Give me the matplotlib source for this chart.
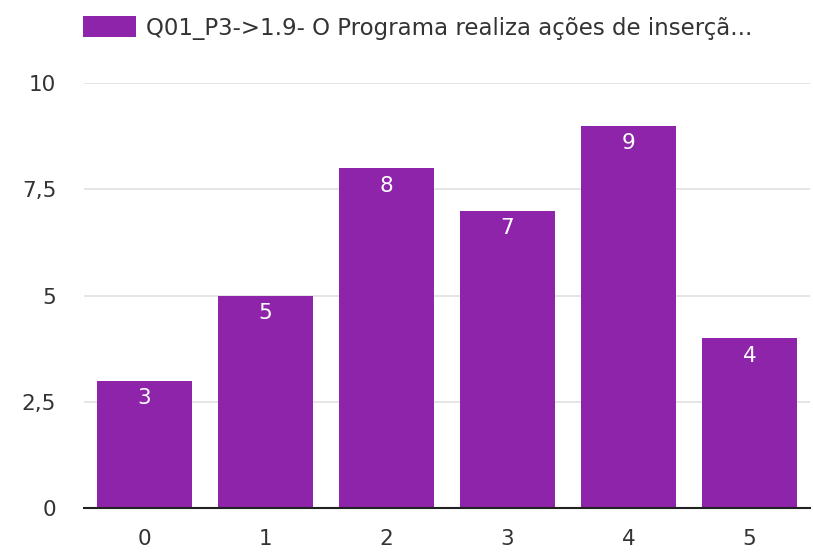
import matplotlib.pyplot as plt
from matplotlib.patches import Patch
from matplotlib.ticker import FuncFormatter

plt.rcParams["font.family"] = ["DejaVu Sans"]

CATEGORIES = ["0", "1", "2", "3", "4", "5"]
VALUES = [3, 5, 8, 7, 9, 4]
SERIES_LABEL = "Q01_P3->1.9- O Programa realiza ações de inserçã..."
Y_TICKS = [0, 2.5, 5, 7.5, 10]

BAR_COLOR = "#8e24aa"
TEXT_COLOR = "#333333"
GRID_COLOR = "#e0e0e0"

fig = plt.figure(figsize=(8.13, 5.56), dpi=100)
ax = fig.add_axes([0.1033, 0.0863, 0.893, 0.7644])

x = range(len(CATEGORIES))
bars = ax.bar(x, VALUES, width=0.79, color=BAR_COLOR, zorder=3)

for rect, v in zip(bars, VALUES):
    ax.annotate(
        str(v),
        (rect.get_x() + rect.get_width() / 2, v),
        xytext=(0, -5.5),
        textcoords="offset points",
        ha="center",
        va="top",
        color="white",
        fontsize=15.5,
        zorder=4,
    )

ax.set_xlim(-0.5, len(CATEGORIES) - 0.5)
ax.set_ylim(0, 10)
ax.set_xticks(list(x))
ax.set_xticklabels(CATEGORIES)
ax.set_yticks(Y_TICKS)
ax.yaxis.set_major_formatter(
    FuncFormatter(lambda v, _: f"{v:g}".replace(".", ","))
)
ax.tick_params(axis="both", length=0, labelsize=15.5, colors=TEXT_COLOR)
ax.tick_params(axis="y", pad=20)
ax.tick_params(axis="x", pad=15)

ax.grid(axis="y", color=GRID_COLOR, linewidth=1.2, zorder=0)
for side in ["top", "right", "left"]:
    ax.spines[side].set_visible(False)
ax.spines["bottom"].set_color("#222222")
ax.spines["bottom"].set_linewidth(1.5)
ax.spines["bottom"].set_zorder(5)

fig.legend(
    handles=[Patch(facecolor=BAR_COLOR, label=SERIES_LABEL)],
    loc="center left",
    bbox_to_anchor=(0.1021, 0.9498),
    frameon=False,
    borderpad=0,
    borderaxespad=0,
    fontsize=16.5,
    handlelength=2.3,
    handleheight=1.05,
    handletextpad=0.45,
    labelcolor=TEXT_COLOR,
)

fig.savefig("out.png", dpi=100)
